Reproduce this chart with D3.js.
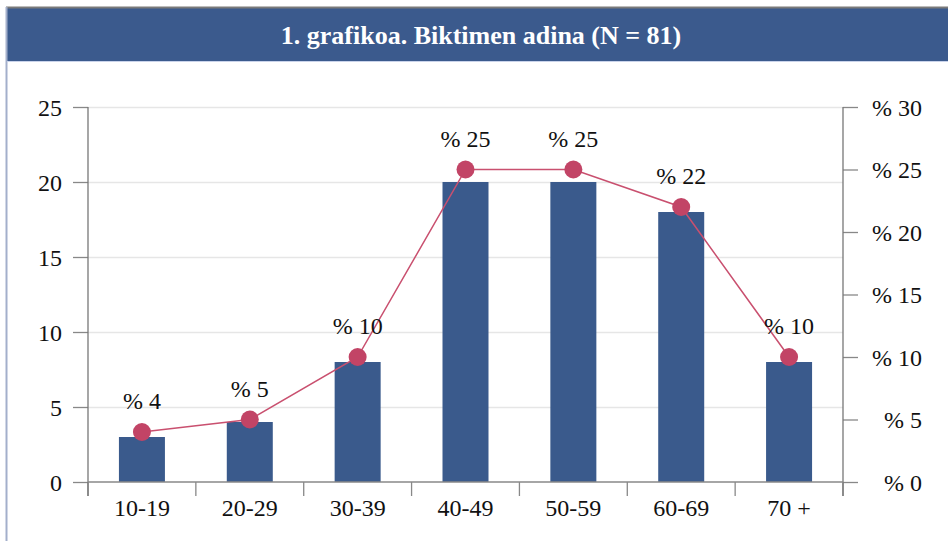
<!DOCTYPE html>
<html><head><meta charset="utf-8">
<script src="https://cdn.jsdelivr.net/npm/d3@7"></script>
<style>
#c text { font-family: "Times New Roman", "Liberation Serif", Tinos, serif !important; }
</style>
</head>
<body style="margin:0">
<svg id="c" width="948" height="541"></svg>
<script>
const title = "1. grafikoa. Biktimen adina (N = 81)";
const categories = ["10-19","20-29","30-39","40-49","50-59","60-69","70 +"];
const counts = [3,4,8,20,20,18,8];
const percents = [4,5,10,25,25,22,10];
const leftTicks = [0,5,10,15,20,25];
const rightTicks = [0,5,10,15,20,25,30];

const svg = d3.select("#c");
const W = 948, H = 541;
const m = {left:88, right:843, top:107, bottom:482};
const setFont = (sel, size, weight) => sel
  .attr("font-family","Times New Roman")
  .attr("font-size",size).style("font-size",size+"px")
  .attr("font-weight",weight||"normal");

// frame
svg.append("rect").attr("x",7).attr("y",8).attr("width",W-7).attr("height",53).attr("fill","#3b5a8d");
svg.append("line").attr("x1",6).attr("x2",W).attr("y1",7.5).attr("y2",7.5).attr("stroke","#7a7a7a").attr("stroke-width",2);
svg.append("line").attr("x1",6.5).attr("x2",6.5).attr("y1",7).attr("y2",H).attr("stroke","#a3afcb").attr("stroke-width",2);
svg.append("line").attr("x1",7).attr("x2",W).attr("y1",61.5).attr("y2",61.5).attr("stroke","#c9d3ea").attr("stroke-width",1);
svg.append("text").attr("x",481).attr("y",44).attr("text-anchor","middle")
  .attr("fill","#fff").call(setFont,26,"bold").text(title);

const x = d3.scaleBand().domain(categories).range([m.left,m.right]).paddingInner(0).paddingOuter(0);
const yL = d3.scaleLinear().domain([0,25]).range([m.bottom,m.top]);
const yR = d3.scaleLinear().domain([0,30]).range([m.bottom,m.top]);

// gridlines
svg.append("g").selectAll("line").data(leftTicks.filter(d=>d>0)).join("line")
  .attr("x1",m.left).attr("x2",m.right).attr("y1",d=>yL(d)+0.5).attr("y2",d=>yL(d)+0.5)
  .attr("stroke","#e6e6e6").attr("stroke-width",1.5);

// bars
const bw = 46;
svg.append("g").selectAll("rect").data(counts).join("rect")
  .attr("x",(d,i)=>x(categories[i])+x.bandwidth()/2-bw/2)
  .attr("width",bw)
  .attr("y",d=>yL(d)).attr("height",d=>yL(0)-yL(d))
  .attr("fill","#3a5a8c");

// axes
const axisStyle = g => {
  g.attr("font-family","Times New Roman").attr("font-size",24);
  g.selectAll(".domain").remove();
  g.selectAll(".tick line").attr("stroke","#888").attr("stroke-width",1.3);
  g.selectAll(".tick text").call(setFont,24).attr("fill","#111");
};
const gL = svg.append("g").attr("transform",`translate(${m.left},0)`)
  .call(d3.axisLeft(yL).tickValues(leftTicks).tickSize(15).tickPadding(11)).call(axisStyle);
gL.selectAll(".tick text").attr("dy","0.35em");
const gR = svg.append("g").attr("transform",`translate(${m.right},0)`)
  .call(d3.axisRight(yR).tickValues(rightTicks).tickSize(15).tickPadding(12).tickFormat(d=>"% "+d)).call(axisStyle);
gR.selectAll(".tick text").attr("text-anchor","end").attr("x",79).attr("dy","0.35em");
const gX = svg.append("g").attr("transform",`translate(0,${m.bottom})`)
  .call(d3.axisBottom(x).tickSize(0).tickPadding(17)).call(axisStyle);
gX.selectAll(".tick text").attr("dy","0.71em");
// band boundary ticks
const bounds = categories.map(c=>x(c)).concat([m.right]);
svg.append("g").selectAll("line").data(bounds).join("line")
  .attr("x1",d=>d).attr("x2",d=>d).attr("y1",m.bottom).attr("y2",m.bottom+14)
  .attr("stroke","#888").attr("stroke-width",1.3);
// axis lines
svg.append("line").attr("x1",m.left).attr("x2",m.left).attr("y1",m.top).attr("y2",m.bottom+14).attr("stroke","#777").attr("stroke-width",1.3);
svg.append("line").attr("x1",m.right).attr("x2",m.right).attr("y1",m.top).attr("y2",m.bottom+14).attr("stroke","#777").attr("stroke-width",1.3);
svg.append("line").attr("x1",m.left).attr("x2",m.right).attr("y1",m.bottom).attr("y2",m.bottom).attr("stroke","#888").attr("stroke-width",1.3);

// line
const cx = i => x(categories[i]) + x.bandwidth()/2;
const line = d3.line().x((d,i)=>cx(i)).y(d=>yR(d));
svg.append("path").datum(percents).attr("d",line).attr("fill","none").attr("stroke","#c9506f").attr("stroke-width",1.5);
svg.append("g").selectAll("circle").data(percents).join("circle")
  .attr("cx",(d,i)=>cx(i)).attr("cy",d=>yR(d)).attr("r",9).attr("fill","#c24466");
svg.append("g").selectAll("text").data(percents).join("text")
  .attr("x",(d,i)=>cx(i)).attr("y",d=>yR(d)-23).attr("text-anchor","middle")
  .call(setFont,24).attr("fill","#111").text(d=>"% "+d);
</script>
</body></html>
